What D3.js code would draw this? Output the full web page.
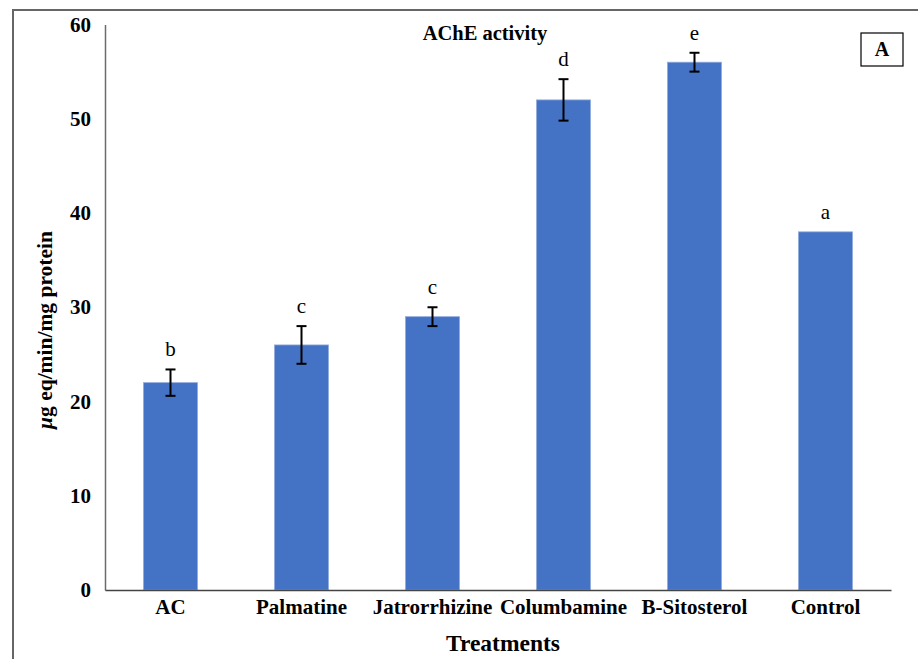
<!DOCTYPE html>
<html>
<head>
<meta charset="utf-8">
<script src="https://cdn.jsdelivr.net/npm/d3@7"></script>
<style>
  html, body { margin: 0; padding: 0; background: #fff; }
  svg { display: block; }
</style>
</head>
<body>
<svg id="chart" width="918" height="659"></svg>
<script>
// AChE activity per treatment (µg eq/min/mg protein)
const categories = ["AC", "Palmatine", "Jatrorrhizine", "Columbamine", "B-Sitosterol", "Control"];
const values = [22, 26, 29, 52, 56, 38];
const errors = [1.4, 2, 1, 2.2, 1, 0];
const letters = ["b", "c", "c", "d", "e", "a"];
const yTicks = [0, 10, 20, 30, 40, 50, 60];

const serif = '"Liberation Serif", "Times New Roman", serif';
const svg = d3.select("#chart");
const W = 918, H = 659;
const plotLeft = 105, plotRight = 891, plotTop = 24.5, plotBottom = 590;

// outer frame (runs past the right and bottom edges)
svg.append("rect")
  .attr("x", 13).attr("y", 10)
  .attr("width", W + 20).attr("height", H + 20)
  .attr("fill", "none").attr("stroke", "#666").attr("stroke-width", 2);

const x = d3.scaleBand().domain(categories).range([plotLeft, plotRight])
  .paddingInner(0.588).paddingOuter(0.294);
const y = d3.scaleLinear().domain([0, 60]).range([plotBottom, plotTop]);

// bars
svg.append("g").selectAll("rect").data(categories).join("rect")
  .attr("x", d => x(d))
  .attr("y", (d, i) => y(values[i]))
  .attr("width", x.bandwidth())
  .attr("height", (d, i) => y(0) - y(values[i]))
  .attr("fill", "#4472C4")
  .attr("stroke", "#8FAADC").attr("stroke-width", 0.8);

// error bars
const eg = svg.append("g").attr("stroke", "#000").attr("stroke-width", 2);
categories.forEach((c, i) => {
  if (!errors[i]) return;
  const cx = x(c) + x.bandwidth() / 2;
  const y1 = y(values[i] + errors[i]), y2 = y(values[i] - errors[i]);
  eg.append("line").attr("x1", cx).attr("x2", cx).attr("y1", y1).attr("y2", y2);
  eg.append("line").attr("x1", cx - 5).attr("x2", cx + 5).attr("y1", y1).attr("y2", y1);
  eg.append("line").attr("x1", cx - 5).attr("x2", cx + 5).attr("y1", y2).attr("y2", y2);
});

// significance letters
svg.append("g").selectAll("text").data(categories).join("text")
  .attr("x", d => x(d) + x.bandwidth() / 2)
  .attr("y", (d, i) => y(values[i] + errors[i]) - 13)
  .attr("text-anchor", "middle")
  .style("font-family", serif)
  .style("font-size", "21px")
  .attr("fill", "#000")
  .text((d, i) => letters[i]);

// y axis
const yAxis = svg.append("g").attr("transform", `translate(${plotLeft},0)`)
  .call(d3.axisLeft(y).tickValues(yTicks).tickSize(0).tickPadding(14));
yAxis.select(".domain").attr("stroke", "#6b6b6b").attr("stroke-width", 1.5);
yAxis.selectAll("text")
  .style("font-family", serif)
  .style("font-weight", "bold").style("font-size", "21px").attr("fill", "#000");

// x axis
const xAxis = svg.append("g").attr("transform", `translate(0,${plotBottom})`)
  .call(d3.axisBottom(x).tickSize(0).tickPadding(9));
xAxis.select(".domain").attr("stroke", "#444").attr("stroke-width", 1.5);
xAxis.selectAll("text")
  .style("font-family", serif)
  .style("font-weight", "bold").style("font-size", "21px").attr("fill", "#000");

// titles
svg.append("text").attr("x", 485).attr("y", 40)
  .attr("text-anchor", "middle")
  .style("font-family", serif).style("font-weight", "bold").style("font-size", "20.5px")
  .text("AChE activity");

svg.append("text").attr("x", 503).attr("y", 651)
  .attr("text-anchor", "middle")
  .style("font-family", serif).style("font-weight", "bold").style("font-size", "23.5px")
  .text("Treatments");

const yl = svg.append("text")
  .attr("transform", `translate(52,330) rotate(-90)`)
  .attr("text-anchor", "middle")
  .style("font-family", serif).style("font-weight", "bold").style("font-size", "21.5px");
yl.append("tspan").style("font-style", "italic").text("μ");
yl.append("tspan").text("g eq/min/mg protein");

// panel tag
svg.append("rect").attr("x", 861).attr("y", 33).attr("width", 42).attr("height", 33)
  .attr("fill", "#fff").attr("stroke", "#000").attr("stroke-width", 1.2);
svg.append("text").attr("x", 882).attr("y", 56)
  .attr("text-anchor", "middle")
  .style("font-family", serif).style("font-weight", "bold").style("font-size", "20px")
  .text("A");
</script>
</body>
</html>
